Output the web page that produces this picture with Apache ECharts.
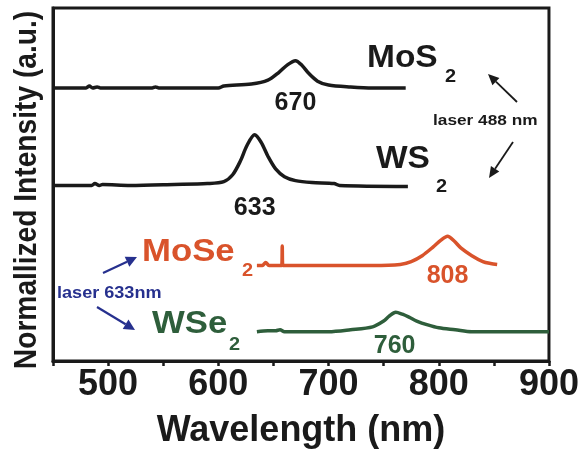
<!DOCTYPE html>
<html>
<head>
<meta charset="utf-8">
<script src="https://cdn.jsdelivr.net/npm/echarts@6/dist/echarts.min.js"></script>
<style>
  html, body { margin: 0; padding: 0; background: #fff; }
  #chart { width: 582px; height: 454px; }
</style>
</head>
<body>
<div id="chart"></div>
<script>
// Photoluminescence spectra, [wavelength (nm), normalized intensity (a.u., stacked)]
var mos2 = [[450,280],[480,280],[483,282],[486,280],[490,281],[493,280],[520,280],[540,280],[543,281],[546,280],[600,280],[605,282],[630,284],[645,288],[655,296],[663,304],[670,308],[676,303],[682,295],[690,287],[700,283],[720,281],[740,280],[770,280]];
var ws2 = [[450,180],[485,180],[488,182],[492,180],[495,181],[520,180],[560,181],[590,182],[605,184],[613,191],[620,205],[626,221],[633,232],[639,224],[645,210],[652,197],[660,189],[670,185],[685,183],[705,182],[710,180],[772,179]];
var mose2 = [[635,98],[640,98],[643,101],[646,98],[655,98],[657.5,98],[658,118],[658.5,98],[661,98],[700,98],[740,98],[765,99],[775,102],[785,108],[795,117],[802,124],[808,128],[814,123],[820,116],[830,108],[840,102],[847,100],[853,99]];
var wse2 = [[635,30],[645,31],[652,31],[656,32],[660,30],[700,30],[720,32],[740,35],[750,41],[755,46],[761,50],[767,48],[773,45],[780,41],[790,37],[800,34],[815,32],[830,30],[900,30]];

// Peak positions labelled under each spectrum
var peaks = [670, 633, 808, 760];
var xTicks = [500, 600, 700, 800, 900];

var FONT = '"Liberation Sans", Arial, Helvetica, sans-serif';
var BLACK = '#1a1a1a';
var RED = '#d9532b';
var GREEN = '#2e5e3b';
var BLUE = '#26308e';

function baseOf(arr) { return arr[0][1]; }

function peakMark(lambda, base, color, dist) {
  return {
    symbol: 'circle',
    symbolSize: 0,
    silent: true,
    data: [{ coord: [lambda, base] }],
    label: {
      show: true,
      position: 'bottom',
      distance: dist,
      formatter: String(lambda),
      color: color,
      fontFamily: FONT,
      fontWeight: 'bold',
      fontSize: 25
    }
  };
}

function spectrum(name, data, color, peak, dist) {
  return {
    name: name,
    type: 'line',
    data: data,
    showSymbol: false,
    smooth: 0.3,
    lineStyle: { color: color, width: 3.5 },
    z: 3,
    markPoint: peakMark(peak, baseOf(data), color, dist)
  };
}

// Arrow = shaft + triangular head
function arrow(x1, y1, x2, y2, color, w, hl, hw) {
  var dx = x2 - x1, dy = y2 - y1;
  var len = Math.sqrt(dx * dx + dy * dy);
  var ux = dx / len, uy = dy / len;
  var bx = x2 - ux * hl, by = y2 - uy * hl;
  var px = -uy * hw, py = ux * hw;
  return [
    { type: 'line', shape: { x1: x1, y1: y1, x2: bx, y2: by },
      style: { stroke: color, lineWidth: w } },
    { type: 'polygon', shape: { points: [[x2, y2], [bx + px, by + py], [bx - px, by - py]] },
      style: { fill: color } }
  ];
}

function label(text, x, y, size, color, sx) {
  return {
    type: 'text', x: x, y: y, scaleX: sx || 1,
    style: {
      text: text, fill: color,
      font: 'bold ' + size + 'px ' + FONT,
      textAlign: 'left', textVerticalAlign: 'middle'
    }
  };
}

var graphics = [
  // vertical axis title, condensed along its length
  {
    type: 'text', x: 27, y: 190, rotation: Math.PI / 2, scaleX: 0.88,
    style: {
      text: 'Normallized Intensity (a.u.)', fill: BLACK,
      font: 'bold 32px ' + FONT,
      textAlign: 'center', textVerticalAlign: 'middle'
    }
  },
  label('MoS', 367, 58, 31, BLACK, 1.08),
  label('2', 445, 77, 19, BLACK, 1.05),
  label('WS', 376, 159, 31, BLACK, 1.08),
  label('2', 436, 187, 19, BLACK, 1.05),
  label('laser 488 nm', 433, 121, 15, BLACK, 1.15),
  label('MoSe', 142, 252, 31, RED, 1.12),
  label('2', 242, 271, 19, RED, 1.05),
  label('WSe', 152, 324, 31, GREEN, 1.12),
  label('2', 229, 345, 19, GREEN, 1.05),
  label('laser 633nm', 57, 294, 16, BLUE, 1.13)
];
graphics = graphics
  .concat(arrow(517, 102, 488, 74, BLACK, 1.8, 11, 5))
  .concat(arrow(513, 142, 489, 178, BLACK, 1.8, 11, 5))
  .concat(arrow(103, 273, 137, 257, BLUE, 2.2, 11, 5.5))
  .concat(arrow(97, 307, 135, 330, BLUE, 2.2, 11, 5.5));

var chart = echarts.init(document.getElementById('chart'));
chart.setOption({
  backgroundColor: '#ffffff',
  animation: false,
  grid: {
    left: 53, right: 32, top: 8, bottom: 84,
    show: true, borderColor: BLACK, borderWidth: 3
  },
  xAxis: {
    type: 'value',
    min: 450, max: 900, interval: 50,
    name: 'Wavelength (nm)',
    nameLocation: 'middle',
    nameGap: 52,
    nameTextStyle: { color: BLACK, fontFamily: FONT, fontWeight: 'bold', fontSize: 36 },
    axisLine: { show: true, lineStyle: { color: BLACK, width: 3 } },
    axisTick: { show: true, inside: false, length: 5, lineStyle: { color: BLACK, width: 2.5 } },
    axisLabel: {
      color: BLACK, fontFamily: FONT, fontWeight: 'bold', fontSize: 36, margin: 6,
      formatter: function (v) { return xTicks.indexOf(v) >= 0 ? String(v) : ''; }
    },
    splitLine: { show: false }
  },
  yAxis: {
    type: 'value',
    min: 0, max: 362,
    axisLine: { show: true, lineStyle: { color: BLACK, width: 3 } },
    axisTick: { show: false },
    axisLabel: { show: false },
    splitLine: { show: false }
  },
  series: [
    spectrum('MoS2', mos2, BLACK, peaks[0], 3),
    spectrum('WS2', ws2, BLACK, peaks[1], 10),
    spectrum('MoSe2', mose2, RED, peaks[2], -2),
    spectrum('WSe2', wse2, GREEN, peaks[3], 2)
  ],
  graphic: graphics
});
</script>
</body>
</html>
